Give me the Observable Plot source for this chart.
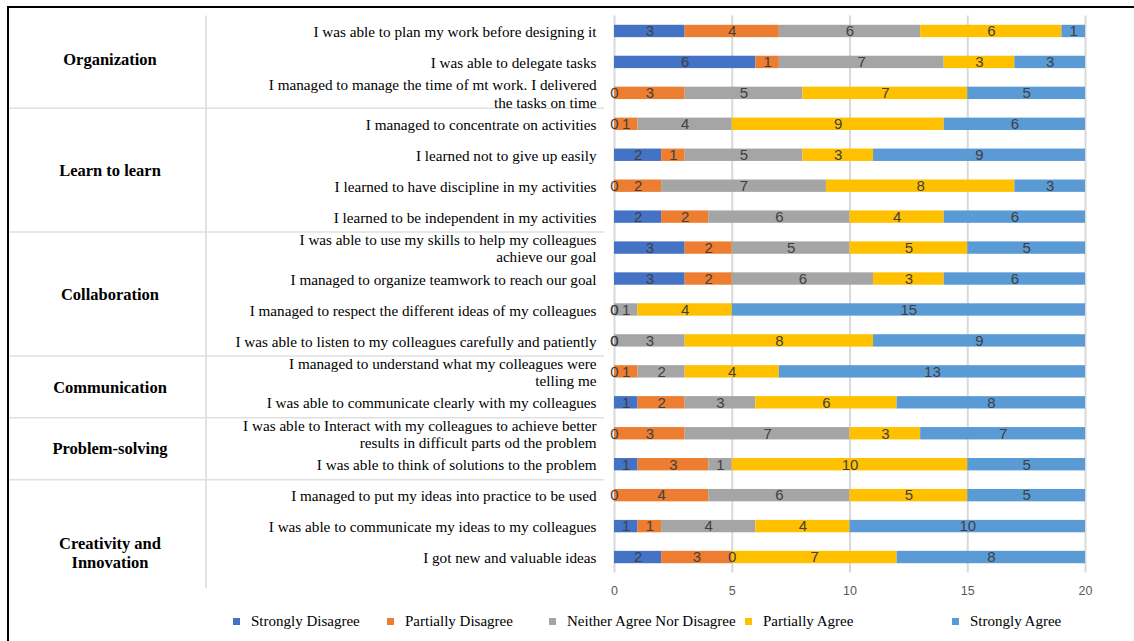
<!DOCTYPE html>
<html>
<head>
<meta charset="utf-8">
<script src="https://cdn.jsdelivr.net/npm/d3@7"></script>
<script src="https://cdn.jsdelivr.net/npm/@observablehq/plot@0.6"></script>
<style>
  body { margin: 0; background: #fff; }
  #wrap { position: relative; width: 1134px; height: 641px; overflow: hidden; background: #fff; }
  #wrap svg { position: absolute; left: 0; top: 0; }
  #frame { position: absolute; left: 7px; top: 6px; right: -10px; bottom: -10px;
           border-top: 2px solid #000; border-left: 2px solid #000; pointer-events: none; }
  .lg-item { position: absolute; top: 612px; height: 18px; display: flex; align-items: center;
             font-family: "Liberation Serif", serif; font-size: 15px; color: #000; white-space: nowrap; }
  .lg-sw { width: 7px; height: 7px; margin-right: 11px; }
</style>
</head>
<body>
<div id="wrap"></div>
<script>
// ---- data ----
const groups = ["Organization", "Learn to learn", "Collaboration", "Communication", "Problem-solving", "Creativity and\nInnovation"];
const groupSizes = [3, 4, 4, 2, 2, 3];
const questions = [
  "I was able to plan my work before designing it",
  "I was able to delegate tasks",
  "I managed to manage the time of mt work. I delivered\nthe tasks on time",
  "I managed to concentrate on activities",
  "I learned not to give up easily",
  "I learned to have discipline in my activities",
  "I learned to be independent in my activities",
  "I was able to use my skills to help my colleagues\nachieve our goal",
  "I managed to organize teamwork to reach our goal",
  "I managed to respect the different ideas of my colleagues",
  "I was able to listen to my colleagues carefully and patiently",
  "I managed to understand what my colleagues were\ntelling me",
  "I was able to communicate clearly with my colleagues",
  "I was able to Interact with my colleagues to achieve better\nresults in difficult parts od the problem",
  "I was able to think of solutions to the problem",
  "I managed to put my ideas into practice to be used",
  "I was able to communicate my ideas to my colleagues",
  "I got new and valuable ideas"
];
const levels = ["Strongly Disagree", "Partially Disagree", "Neither Agree Nor Disagree", "Partially Agree", "Strongly Agree"];
const levelColors = ["#4472C4", "#ED7D31", "#A5A5A5", "#FFC000", "#5B9BD5"];
const stronglyDisagree  = [3, 6, 0, 0, 2, 0, 2, 3, 3, 0, 0, 0, 1, 0, 1, 0, 1, 2];
const partiallyDisagree = [4, 1, 3, 1, 1, 2, 2, 2, 2, 0, 0, 1, 2, 3, 3, 4, 1, 3];
const neitherAgree      = [6, 7, 5, 4, 5, 7, 6, 5, 6, 1, 3, 2, 3, 7, 1, 6, 4, 0];
const partiallyAgree    = [6, 3, 7, 9, 3, 8, 4, 5, 3, 4, 8, 4, 6, 3, 10, 5, 4, 7];
const stronglyAgree     = [1, 3, 5, 6, 9, 3, 6, 5, 6, 15, 9, 13, 8, 7, 5, 5, 10, 8];
const xTicks = [0, 5, 10, 15, 20];

// ---- table ----
const series = [stronglyDisagree, partiallyDisagree, neitherAgree, partiallyAgree, stronglyAgree];
const rows = [];
questions.forEach((q, i) => {
  levels.forEach((lv, j) => rows.push({question: q, level: lv, value: series[j][i]}));
});

const W = 1134, H = 600;
const plot = Plot.plot({
  width: W, height: H,
  marginLeft: 614, marginRight: 49, marginTop: 15.5, marginBottom: 27.5,
  style: {background: "transparent", overflow: "visible"},
  x: {domain: [0, 20], ticks: xTicks},
  y: {domain: questions, paddingInner: 0.6, paddingOuter: 0.3, round: false},
  color: {domain: levels, range: levelColors},
  marks: [
    Plot.gridX({ticks: xTicks, stroke: "#d9d9d9", strokeOpacity: 1, strokeWidth: 2}),
    Plot.barX(rows, {x: "value", y: "question", fill: "level"}),
    Plot.text(rows, Plot.stackX({x: "value", y: "question", z: "level", text: "value",
      fill: "#404040", fontSize: 15, fontFamily: "Liberation Sans, Arial, sans-serif"})),
    Plot.axisY({tickSize: 0, tickPadding: 18, fontSize: 15.2, fontFamily: "Liberation Serif, serif",
      fill: "#000", lineHeight: 1.15, label: null}),
    Plot.axisX({ticks: xTicks, tickSize: 0, tickPadding: 13, fontSize: 12.5,
      fontFamily: "Liberation Sans, Arial, sans-serif", fill: "#595959", label: null})
  ]
});

const wrap = document.getElementById("wrap");
wrap.appendChild(plot);

// ---- category column (uses the plot's y scale) ----
const y = plot.scale("y");
const bw = y.bandwidth;
const center = q => y.apply(q) + bw / 2;
const svg = d3.select(plot);
const deco = svg.insert("g", ":first-child");

// vertical divider of the category column
deco.append("line").attr("x1", 206).attr("x2", 206).attr("y1", 15.5).attr("y2", 588)
  .attr("stroke", "#e3e3e3").attr("stroke-width", 2);

let start = 0;
const bounds = [];
groupSizes.forEach((n, g) => {
  const first = questions[start], last = questions[start + n - 1];
  const top = g === 0 ? 10 : (center(questions[start - 1]) + center(first)) / 2;
  const bottom = g === groupSizes.length - 1 ? 625 : (center(last) + center(questions[start + n])) / 2;
  bounds.push({name: groups[g], top, bottom});
  start += n;
});
bounds.slice(1).forEach(b => {
  deco.append("line").attr("x1", 9).attr("x2", 604).attr("y1", b.top).attr("y2", b.top)
    .attr("stroke", "#e0e0e0").attr("stroke-width", 1.5);
});
bounds.forEach(b => {
  const lines = b.name.split("\n");
  const lh = 19;
  const mid = (b.top + b.bottom) / 2;
  const t = svg.append("text").attr("text-anchor", "middle")
    .attr("font-family", "Liberation Serif, serif").attr("font-weight", "bold")
    .attr("font-size", 16.5).attr("fill", "#000");
  lines.forEach((ln, k) => {
    t.append("tspan").attr("x", 110)
      .attr("y", mid + (k - (lines.length - 1) / 2) * lh)
      .attr("dy", "0.35em").text(ln);
  });
});

// ---- legend ----
const legendLeft = [233, 387, 549, 745, 952];
levels.forEach((lv, j) => {
  const item = document.createElement("div");
  item.className = "lg-item";
  item.style.left = legendLeft[j] + "px";
  const sw = document.createElement("span");
  sw.className = "lg-sw";
  sw.style.background = levelColors[j];
  item.appendChild(sw);
  item.appendChild(document.createTextNode(lv));
  wrap.appendChild(item);
});

const frame = document.createElement("div");
frame.id = "frame";
wrap.appendChild(frame);
</script>
</body>
</html>
